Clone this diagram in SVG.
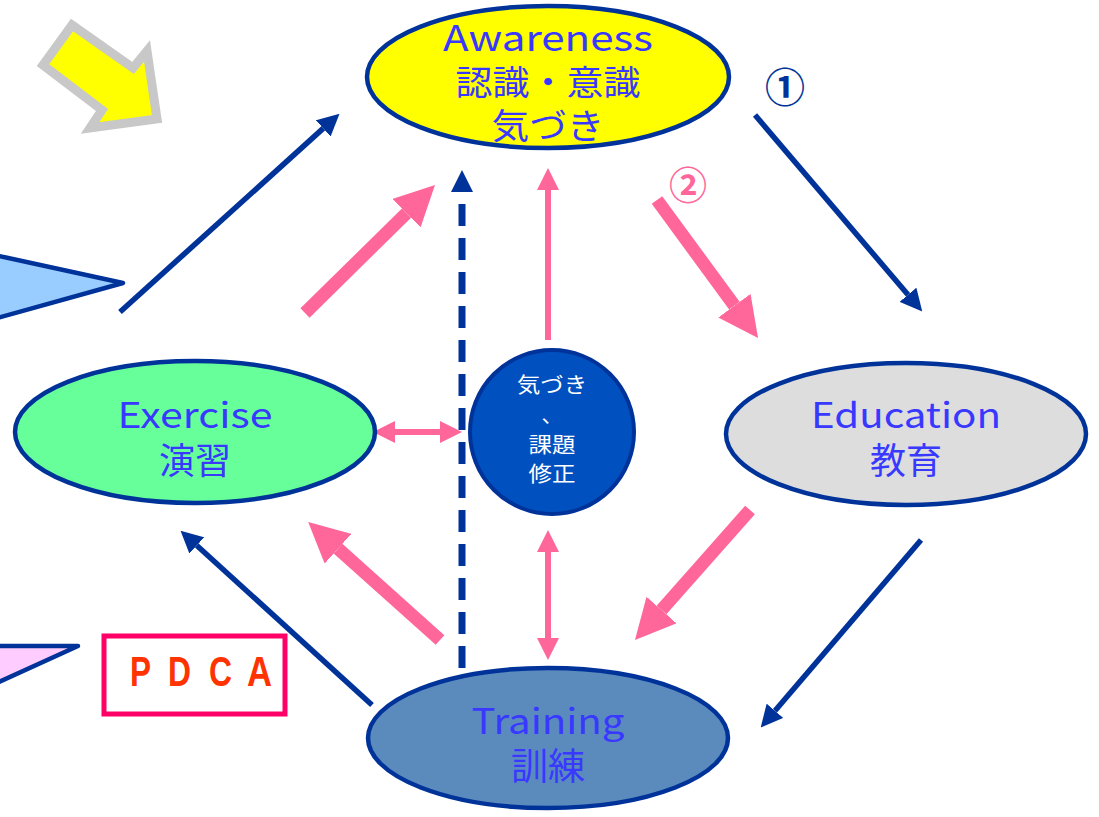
<svg xmlns="http://www.w3.org/2000/svg" width="1099" height="817" viewBox="0 0 1099 817">
<style>
.t{font-family:"Noto Sans CJK JP","Noto Sans",sans-serif;fill:#3838ff;text-anchor:middle}
.w{fill:#ffffff;font-size:21px}
.node{stroke:#003399;stroke-width:4.5}
.nv{stroke:#003399;stroke-width:5.5;fill:none}
.pk{stroke:#ff6699;stroke-width:13;fill:none}
.pkt{stroke:#ff6699;stroke-width:6;fill:none}
.pd{font-family:"Liberation Sans",Arial,sans-serif;font-weight:bold;font-size:42px;fill:#ff3300;text-anchor:start}
</style>
<defs>
<marker id="mn" markerUnits="userSpaceOnUse" viewBox="0 0 22 22" markerWidth="22" markerHeight="22" refX="0" refY="11" orient="auto"><path d="M0,0 L22,11 L0,22 Z" fill="#003399"/></marker>
<marker id="mp" markerUnits="userSpaceOnUse" viewBox="0 0 40 40" markerWidth="40" markerHeight="40" refX="0" refY="20" orient="auto"><path d="M0,0 L40,20 L0,40 Z" fill="#ff6699"/></marker>
<marker id="mps" markerUnits="userSpaceOnUse" viewBox="0 0 22 22" markerWidth="22" markerHeight="22" refX="0" refY="11" orient="auto-start-reverse"><path d="M0,0 L22,11 L0,22 Z" fill="#ff6699"/></marker>
</defs>

<g id="decor">
<polygon points="72,25 133,68 147,51 157,119 90,128 102,110 43,65" fill="#ffff00" stroke="#c8c8c8" stroke-width="9"/>
<polygon points="-10,254 123,283 -10,320" fill="#99ccff" stroke="#003399" stroke-width="4.5" stroke-linejoin="round"/>
<polygon points="-10,646 78,646 -10,686" fill="#ffccff" stroke="#003399" stroke-width="4.5" stroke-linejoin="round"/>
</g>

<g id="connectors">
<path class="nv" d="M120,312 L323.2,128.4" marker-end="url(#mn)"/>
<path class="nv" d="M755,115 L908,294.8" marker-end="url(#mn)"/>
<path class="nv" d="M921,540 L775,710.8" marker-end="url(#mn)"/>
<path class="nv" d="M372,705 L196.8,545.5" marker-end="url(#mn)"/>
<path d="M462,668 L462,192" stroke="#003399" stroke-width="7" stroke-dasharray="22,12" fill="none" marker-end="url(#mn)"/>
<path class="pk" d="M305,313 L406.5,213.1" marker-end="url(#mp)"/>
<path class="pk" d="M657,200 L734.4,305.7" marker-end="url(#mp)"/>
<path class="pk" d="M750,510 L661.5,610" marker-end="url(#mp)"/>
<path class="pk" d="M440,640 L338,548.7" marker-end="url(#mp)"/>
<path class="pkt" d="M548,340 L548,190" marker-end="url(#mps)"/>
<path class="pkt" d="M395,432 L440,432" marker-start="url(#mps)" marker-end="url(#mps)"/>
<path class="pkt" d="M548,552 L548,638" marker-start="url(#mps)" marker-end="url(#mps)"/>
</g>

<g id="awareness">
<ellipse class="node" cx="548" cy="77" rx="181" ry="71" fill="#ffff00"/>
<text class="t" x="548" y="51" font-size="35" textLength="210" lengthAdjust="spacingAndGlyphs">Awareness</text>
<text class="t" x="548" y="95" font-size="34" textLength="185" lengthAdjust="spacingAndGlyphs">認識・意識</text>
<text class="t" x="548" y="139" font-size="35" textLength="113" lengthAdjust="spacingAndGlyphs">気づき</text>
</g>

<g id="exercise">
<ellipse class="node" cx="195" cy="432" rx="180" ry="71" fill="#66ff99"/>
<text class="t" x="195" y="428" font-size="35" textLength="155" lengthAdjust="spacingAndGlyphs">Exercise</text>
<text class="t" x="195" y="474" font-size="36">演習</text>
</g>

<g id="education">
<ellipse class="node" cx="906" cy="434" rx="180" ry="71" fill="#dddddd"/>
<text class="t" x="906" y="428" font-size="35" textLength="190" lengthAdjust="spacingAndGlyphs">Education</text>
<text class="t" x="906" y="474" font-size="36">教育</text>
</g>

<g id="training">
<ellipse class="node" cx="548" cy="738" rx="180" ry="70" fill="#5b8bbd"/>
<text class="t" x="548" y="734" font-size="35" textLength="153" lengthAdjust="spacingAndGlyphs">Training</text>
<text class="t" x="548" y="780" font-size="37">訓練</text>
</g>

<g id="center">
<circle cx="552" cy="432" r="82" fill="#0050c0" stroke="#003399" stroke-width="4"/>
<text class="t w" x="552" y="392" textLength="70" lengthAdjust="spacingAndGlyphs">気づき</text>
<text class="t w" x="552" y="422">、</text>
<text class="t w" x="552" y="452" textLength="47" lengthAdjust="spacingAndGlyphs">課題</text>
<text class="t w" x="552" y="481" textLength="47" lengthAdjust="spacingAndGlyphs">修正</text>
</g>

<g id="label1"><text class="t" x="785" y="102" font-size="40" font-weight="bold" style="fill:#003399">①</text></g>
<g id="label2"><text class="t" x="688" y="199" font-size="38" font-weight="bold" style="fill:#ff6699">②</text></g>

<g id="pdca">
<rect x="104" y="636" width="181" height="78" fill="#ffffff" stroke="#ff0066" stroke-width="5"/>
<text class="pd" x="130" y="686" textLength="21" lengthAdjust="spacingAndGlyphs">P</text>
<text class="pd" x="168" y="686" textLength="23" lengthAdjust="spacingAndGlyphs">D</text>
<text class="pd" x="209" y="686" textLength="23" lengthAdjust="spacingAndGlyphs">C</text>
<text class="pd" x="247" y="686" textLength="25" lengthAdjust="spacingAndGlyphs">A</text>
</g>
</svg>
